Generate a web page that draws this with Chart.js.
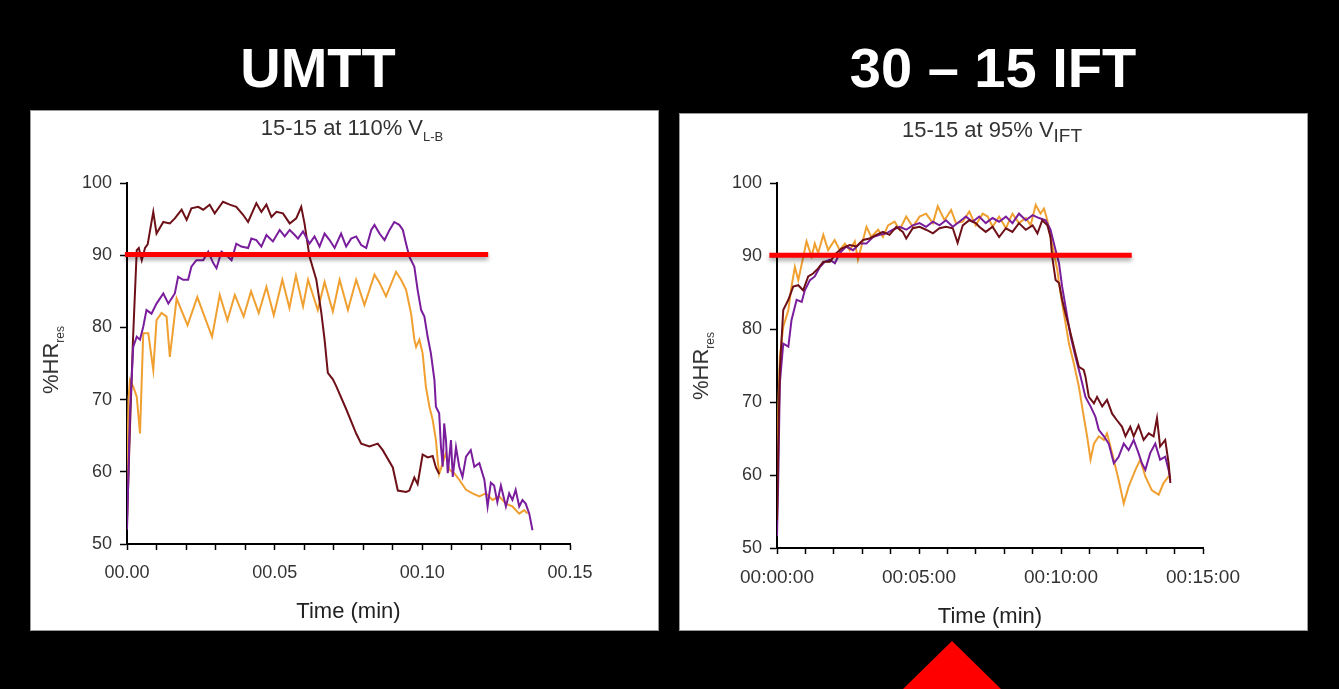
<!DOCTYPE html>
<html>
<head>
<meta charset="utf-8">
<script src="https://cdn.jsdelivr.net/npm/chart.js@4.4.1/dist/chart.umd.min.js"></script>
<style>
    html, body { margin: 0; padding: 0; }
    body {
        width: 1339px; height: 689px; background: #000;
        position: relative; overflow: hidden;
        font-family: "Liberation Sans", Arial, sans-serif;
    }
    .slide-title {
        position: absolute; top: 68px; transform: translate(-50%, -50%);
        color: #fff; font-weight: bold; font-size: 56px; line-height: 1; white-space: nowrap;
    }
    .panel { position: absolute; background: #fff; box-shadow: 0 0 0 1px #9a9a9a; }
    .panel canvas { position: absolute; left: 0; top: 0; }
    .sub {
        position: absolute; transform: translate(-50%, -50%);
        color: #333; font-size: 22px; line-height: 1; white-space: nowrap;
    }
    .sub .lb { font-size: 13px; position: relative; top: 6px; }
    .sub .ift { font-size: 19px; position: relative; top: 5px; }
    .ytitle {
        position: absolute; transform: translate(-50%, -50%) rotate(-90deg);
        color: #333; font-size: 22px; line-height: 1; white-space: nowrap;
    }
    .ytitle span { font-size: 12px; position: relative; top: 6px; }
    .arrow {
        position: absolute; left: 900px; top: 641px; width: 104px; height: 50px;
        background: #ff0000; clip-path: polygon(52px 0, 103px 50px, 1px 50px);
    }
</style>
</head>
<body>
<div class="slide-title" style="left:318px">UMTT</div>
<div class="slide-title" style="left:993px">30 – 15 IFT</div>

<div class="panel" style="left:31px; top:111px; width:627px; height:519px">
    <canvas id="umttChart" width="627" height="519"></canvas>
    <div class="sub" style="left:321px; top:17px">15-15 at 110% V<span class="lb">L-B</span></div>
    <div class="ytitle" style="left:20px; top:249px">%HR<span>res</span></div>
</div>

<div class="panel" style="left:680px; top:114px; width:627px; height:516px">
    <canvas id="iftChart" width="627" height="516"></canvas>
    <div class="sub" style="left:312px; top:16px">15-15 at 95% V<span class="ift">IFT</span></div>
    <div class="ytitle" style="left:21px; top:252px">%HR<span>res</span></div>
</div>

<div class="arrow"></div>

<script>
// ── Data: UMTT (time axis in the original "00.xx" units) ──────
const umttTickLabels = ['00.00', '00.05', '00.10', '00.15'];

const umttDarkT = [0, 0.001, 0.002, 0.0033, 0.004, 0.005, 0.0061, 0.007, 0.0083, 0.0089, 0.010, 0.0123,
    0.0145, 0.0162, 0.0185, 0.0202, 0.0218, 0.0241, 0.0258, 0.028, 0.0297, 0.0325, 0.0348, 0.037, 0.0393,
    0.041, 0.0438, 0.0455, 0.0472, 0.0489, 0.0506, 0.0528, 0.0551, 0.0573, 0.059, 0.0601, 0.0618, 0.0641,
    0.0658, 0.0669, 0.068, 0.0697, 0.0708, 0.0742, 0.0776, 0.0793, 0.0821, 0.0849, 0.0866, 0.09, 0.0917,
    0.0945, 0.0956, 0.0973, 0.0984, 0.1001, 0.1018, 0.1035, 0.1046, 0.1057];
const umttDarkHR = [53, 66, 78, 90.7, 91, 89.3, 91, 91.5, 94.6, 96, 93, 94.6,
    94.4, 95.1, 96.3, 94.9, 96.5, 96.7, 96.3, 97, 95.8, 97.4, 97, 96.7, 95.6,
    94.6, 97.2, 96, 97, 95.3, 96, 95.8, 94.4, 95.1, 96.7, 94.4, 89.8, 86.6,
    82, 78.3, 73.7, 72.8, 71.9, 68.7, 65.3, 63.9, 63.5, 63.9, 63, 60.6, 57.4,
    57.2, 57.4, 59.2, 58.3, 62.4, 62, 62.2, 60.6, 59.7];

const umttPurpleT = [0, 0.001, 0.0021, 0.0033, 0.0044, 0.0055, 0.0066, 0.0083, 0.010, 0.0123, 0.014, 0.0162,
    0.0173, 0.019, 0.0207, 0.0218, 0.0235, 0.0258, 0.0275, 0.0292, 0.0303, 0.032, 0.0337, 0.0354, 0.037,
    0.0387, 0.041, 0.0421, 0.0438, 0.0455, 0.0472, 0.0494, 0.0517, 0.0534, 0.0551, 0.0568, 0.0579, 0.0596,
    0.0618, 0.0635, 0.0652, 0.0669, 0.0686, 0.0703, 0.0725, 0.0742, 0.0759, 0.0776, 0.0793, 0.081, 0.0827,
    0.0838, 0.0855, 0.0872, 0.0889, 0.0905, 0.0922, 0.0934, 0.0945, 0.0956, 0.0973, 0.0984, 0.0996, 0.1007,
    0.1018, 0.1029, 0.1041, 0.1046, 0.1057, 0.1063, 0.1069, 0.1074, 0.108, 0.1086, 0.1097, 0.1103, 0.1114,
    0.1125, 0.1136, 0.1148, 0.1164, 0.1176, 0.1193, 0.121, 0.1221, 0.1232, 0.1243, 0.1254, 0.1266, 0.1283,
    0.1294, 0.1305, 0.1316, 0.1328, 0.1339, 0.135, 0.1362, 0.1373];
const umttPurpleHR = [52, 68.1, 77.3, 78.7, 78.3, 80.1, 82.4, 81.9, 83.3, 84.7, 83.3, 84.7,
    87, 86.6, 86.6, 88.4, 89.3, 89.3, 90.5, 88.9, 88.2, 90.5, 90, 89.3, 91.6,
    91.2, 91, 92.3, 92.1, 91.2, 92.8, 91.9, 93.5, 92.6, 93.5, 92.8, 92.3, 93.3,
    91.6, 92.6, 91.2, 93, 92.1, 91, 93, 91.2, 92.3, 92.6, 91.4, 91, 93.5,
    94.2, 93, 92.1, 93.5, 94.6, 94.2, 93.5, 91.6, 89.8, 88.4, 85.2, 82.4, 81.5,
    78.7, 76.4, 72.7, 69, 68.1, 63.5, 60.7, 66.7, 64.4, 59.8, 64.4, 59.3, 63.4,
    60.7, 59.3, 62.1, 63, 60.7, 61.2, 58.9, 55.2, 58.5, 58.1, 55.8, 58.1, 55.2,
    57, 56.1, 57.5, 55.2, 56.1, 55.6, 54.2, 51.9];

const umttOrangeT = [0, 0.0005, 0.001, 0.0021, 0.0033, 0.0044, 0.0055, 0.0072, 0.0089, 0.010, 0.0117, 0.0134,
    0.0145, 0.0168, 0.0205, 0.0238, 0.0288, 0.0314, 0.034, 0.0365, 0.0395, 0.042, 0.0446, 0.0472, 0.0497,
    0.0526, 0.055, 0.0572, 0.0596, 0.0613, 0.0646, 0.0669, 0.0697, 0.072, 0.0748, 0.0776, 0.0804, 0.0838,
    0.0855, 0.0877, 0.0911, 0.0928, 0.0945, 0.0962, 0.0973, 0.0979, 0.099, 0.1001, 0.1012, 0.1024, 0.1035,
    0.1046, 0.1052, 0.1057, 0.1069, 0.108, 0.1091, 0.1108, 0.1125, 0.1148, 0.117, 0.1193, 0.1215, 0.1238,
    0.126, 0.1283, 0.1305, 0.1328, 0.1345, 0.1356];
const umttOrangeHR = [58, 70, 72.7, 71.8, 70.4, 65.3, 79.2, 79.2, 74.1, 81, 82, 81.5,
    75.9, 84, 80.3, 84.2, 78.7, 84.5, 81, 84.5, 81.5, 85, 82, 85.6, 81.7,
    86.6, 82.7, 87.2, 82.9, 86.6, 82.4, 86.3, 82.2, 86.6, 82.4, 86.6, 83.1, 87.3,
    86.2, 84.3, 87.7, 86.6, 85.2, 81.9, 78.3, 77.3, 78.3, 76.4, 71.8, 69, 67.2,
    64.4, 61.6, 59.7, 61.2, 62.6, 60.3, 59.8, 58.9, 57.5, 57, 56.6, 57, 56.1,
    56.6, 55.6, 55.2, 54.2, 54.7, 54.2];

const umttRefT = [-0.0007, 0.1223];
const umttRefHR = [90.1, 90.1];

// ── Data: 30-15 IFT (time axis in minutes) ─────────────────────
const iftTickLabels = ['00:00:00', '00:05:00', '00:10:00', '00:15:00'];

const iftOrangeT = [0, 0.05, 0.1, 0.22, 0.4, 0.51, 0.63, 0.75, 1.04, 1.22, 1.33, 1.45, 1.63, 1.8, 2.03, 2.21,
    2.39, 2.56, 2.74, 2.85, 3.15, 3.32, 3.56, 3.73, 3.91, 4.14, 4.32, 4.55, 4.78, 5.02, 5.25, 5.49, 5.66,
    5.9, 6.13, 6.3, 6.54, 6.77, 7.0, 7.24, 7.42, 7.59, 7.82, 8.06, 8.29, 8.52, 8.76, 8.93, 9.11, 9.28, 9.4,
    9.52, 9.63, 9.75, 9.87, 9.93, 10.04, 10.16, 10.28, 10.45, 10.63, 10.8, 10.92, 11.04, 11.16, 11.33,
    11.51, 11.62, 11.8, 12.03, 12.21, 12.38, 12.62, 12.79, 12.97, 13.2, 13.44, 13.61, 13.79];
const iftOrangeHR = [56.1, 69.8, 76.2, 80.3, 82.6, 85.8, 88.5, 86.7, 92, 89.9, 91.7, 90.4, 92.9, 90.8, 92.2, 90.8,
    91.7, 90.8, 92, 89.5, 94, 92.6, 93.6, 92.6, 94.2, 94.7, 93.6, 95.4, 94, 95.4, 95.8, 94.5, 96.8,
    94.9, 96.3, 94.5, 94.7, 96.1, 94.2, 95.8, 95.4, 94, 95.4, 93.8, 95.8, 94.5, 95.2, 94.2, 97, 95.8, 96.5,
    94.9, 92.6, 90.4, 88.1, 86.3, 83.5, 80.8, 78, 75.3, 72.1, 68, 65.3, 62.1, 64.3, 65.3,
    64.8, 65.7, 63, 59.3, 56.1, 58.4, 60.7, 62.1, 59.8, 57.9, 57.3, 58.9, 59.8];

const iftDarkT = [0, 0.05, 0.1, 0.22, 0.4, 0.57, 0.75, 0.92, 1.1, 1.27, 1.45, 1.63, 1.86, 2.09, 2.27, 2.56,
    2.8, 3.03, 3.26, 3.5, 3.73, 3.96, 4.2, 4.43, 4.55, 4.78, 5.02, 5.25, 5.49, 5.72, 5.95, 6.19, 6.36,
    6.54, 6.77, 7.0, 7.12, 7.35, 7.59, 7.82, 8.06, 8.29, 8.52, 8.76, 9.0, 9.17, 9.34, 9.52, 9.63, 9.69,
    9.81, 9.93, 10.04, 10.16, 10.28, 10.45, 10.63, 10.8, 10.86, 10.98, 11.16, 11.27, 11.45, 11.62, 11.8,
    11.97, 12.15, 12.27, 12.44, 12.56, 12.73, 12.91, 13.09, 13.26, 13.38, 13.49, 13.67, 13.79, 13.85];
const iftDarkHR = [53.8, 65.3, 74.4, 82.6, 84, 85.8, 86, 85.3, 87.2, 87.6, 88.3, 89.2, 89.2, 90.4, 91, 91.5,
    91.3, 92.2, 92.4, 92.9, 93.3, 92.9, 94, 93.3, 92.4, 93.8, 94, 93.6, 93.1, 93.8, 94, 93.8, 91.8,
    94.2, 94.9, 94.5, 94, 93.3, 94, 92.6, 93.8, 93.3, 94.5, 93.6, 94.2, 93.1, 94.9, 94.2, 92.6, 89.9,
    86.7, 86.3, 84, 82.1, 80.3, 77.6, 74.8, 74.4, 73.5, 70.7, 69.8, 70.7, 69.4, 70.3, 68.4,
    67.5, 66.6, 65.3, 66.6, 65.3, 66.8, 64.8, 65.7, 65.3, 67.8, 63.9, 64.8, 61.6, 58.9];

const iftPurpleT = [0, 0.05, 0.1, 0.22, 0.4, 0.51, 0.69, 0.87, 0.98, 1.16, 1.33, 1.51, 1.68, 1.86, 2.04, 2.21,
    2.44, 2.68, 2.91, 3.15, 3.38, 3.61, 3.85, 4.08, 4.32, 4.55, 4.78, 5.02, 5.25, 5.49, 5.72, 5.95, 6.19,
    6.42, 6.65, 6.89, 7.12, 7.35, 7.59, 7.82, 8.06, 8.29, 8.52, 8.76, 9.0, 9.23, 9.46, 9.63, 9.81, 9.93,
    10.04, 10.22, 10.34, 10.51, 10.69, 10.86, 11.04, 11.21, 11.33, 11.51, 11.68, 11.86, 12.03, 12.21,
    12.38, 12.56, 12.73, 12.85, 12.97, 13.14, 13.32, 13.49, 13.67, 13.79, 13.85];
const iftPurpleHR = [51.6, 60.7, 72.6, 78, 77.6, 81.2, 84, 83.7, 85.3, 86.7, 87.2, 88.5, 89.2, 89.5, 89, 90.4,
    91.3, 90.8, 91.7, 91.7, 92.6, 92.9, 93.1, 93.6, 94, 93.6, 94.2, 94.5, 94, 94.7, 94.2, 94.9, 94,
    94.7, 95.4, 94.7, 95.4, 94.5, 95.2, 94.7, 95.4, 94.5, 95.8, 94.9, 95.6, 95.2, 94.9, 93.6, 90.8, 89,
    85.8, 81.7, 79, 76.2, 73.5, 70.7, 69.4, 68, 66.2, 65.3, 64.3, 61.6, 62.5, 64.3,
    63.4, 64.8, 63, 61.6, 60.7, 63, 64.3, 62.1, 62.5, 60.7, 59.3];

const iftRefT = [-0.27, 12.49];
const iftRefHR = [90.1, 90.1];

// ── Colours ─────────────────────────────────────────────
const COLORS = {
    dark: '#6e1018',
    purple: '#7a1d9c',
    orange: '#f0a030',
    ref: '#ff0000'
};
const FONT = '"Liberation Sans", Arial, sans-serif';

// ── Helpers ─────────────────────────────────────────────
const toPoints = (ts, hs) => ts.map((t, i) => ({ x: t, y: hs[i] }));

function series(ts, hs, color) {
    return {
        data: toPoints(ts, hs),
        borderColor: color,
        borderWidth: 2,
        pointRadius: 0,
        showLine: true,
        tension: 0
    };
}

function refLine(ts, hs) {
    return {
        data: toPoints(ts, hs),
        borderColor: COLORS.ref,
        borderWidth: 5,
        pointRadius: 0,
        showLine: true,
        clip: false,
        shadow: true
    };
}

// drop shadow under the red reference bar
const shadowPlugin = {
    id: 'refShadow',
    beforeDatasetDraw(chart, args) {
        if (!chart.data.datasets[args.index].shadow) return;
        const ctx = chart.ctx;
        ctx.save();
        ctx.shadowColor = 'rgba(0, 0, 0, 0.35)';
        ctx.shadowBlur = 4;
        ctx.shadowOffsetY = 3;
    },
    afterDatasetDraw(chart, args) {
        if (!chart.data.datasets[args.index].shadow) return;
        chart.ctx.restore();
    }
};

function makeChart(id, opt) {
    return new Chart(document.getElementById(id), {
        type: 'scatter',
        data: { datasets: opt.datasets },
        plugins: [shadowPlugin],
        options: {
            responsive: false,
            animation: false,
            layout: { padding: { left: opt.padLeft, right: opt.padRight, top: opt.padTop, bottom: 0 } },
            plugins: { legend: { display: false }, tooltip: { enabled: false } },
            scales: {
                x: {
                    type: 'linear',
                    min: opt.xMin, max: opt.xMax,
                    afterFit: s => { s.height = opt.xHeight; },
                    border: { color: '#000', width: 2 },
                    grid: { drawOnChartArea: false, drawTicks: true, tickLength: 6, tickColor: '#000', tickWidth: 1.5 },
                    ticks: {
                        stepSize: opt.xStep,
                        autoSkip: false,
                        maxRotation: 0,
                        padding: 12,
                        color: '#333',
                        font: { family: FONT, size: opt.xTickSize },
                        callback: (v, i) => (i % 5 === 0 ? opt.xLabels[i / 5] : '')
                    },
                    title: {
                        display: true, text: 'Time (min)', color: '#222',
                        font: { family: FONT, size: 22 },
                        padding: { top: 0, bottom: opt.titlePad }
                    }
                },
                y: {
                    min: 50, max: 100,
                    afterFit: s => { s.width = 46; },
                    border: { color: '#000', width: 2 },
                    grid: { drawOnChartArea: false, drawTicks: true, tickLength: 7, tickColor: '#000', tickWidth: 1.5 },
                    ticks: {
                        stepSize: 10,
                        padding: 8,
                        color: '#333',
                        font: { family: FONT, size: 18 }
                    }
                }
            }
        }
    });
}

// ── Build ───────────────────────────────────────────────
makeChart('umttChart', {
    datasets: [
        refLine(umttRefT, umttRefHR),
        series(umttPurpleT, umttPurpleHR, COLORS.purple),
        series(umttDarkT, umttDarkHR, COLORS.dark),
        series(umttOrangeT, umttOrangeHR, COLORS.orange)
    ],
    padLeft: 50, padRight: 88, padTop: 72, xHeight: 86, titlePad: 5,
    xMin: 0, xMax: 0.15, xStep: 0.01, xLabels: umttTickLabels, xTickSize: 18
});

makeChart('iftChart', {
    datasets: [
        refLine(iftRefT, iftRefHR),
        series(iftDarkT, iftDarkHR, COLORS.dark),
        series(iftPurpleT, iftPurpleHR, COLORS.purple),
        series(iftOrangeT, iftOrangeHR, COLORS.orange)
    ],
    padLeft: 51, padRight: 104, padTop: 69, xHeight: 82, titlePad: 0,
    xMin: 0, xMax: 15, xStep: 1, xLabels: iftTickLabels, xTickSize: 19
});
</script>
</body>
</html>
